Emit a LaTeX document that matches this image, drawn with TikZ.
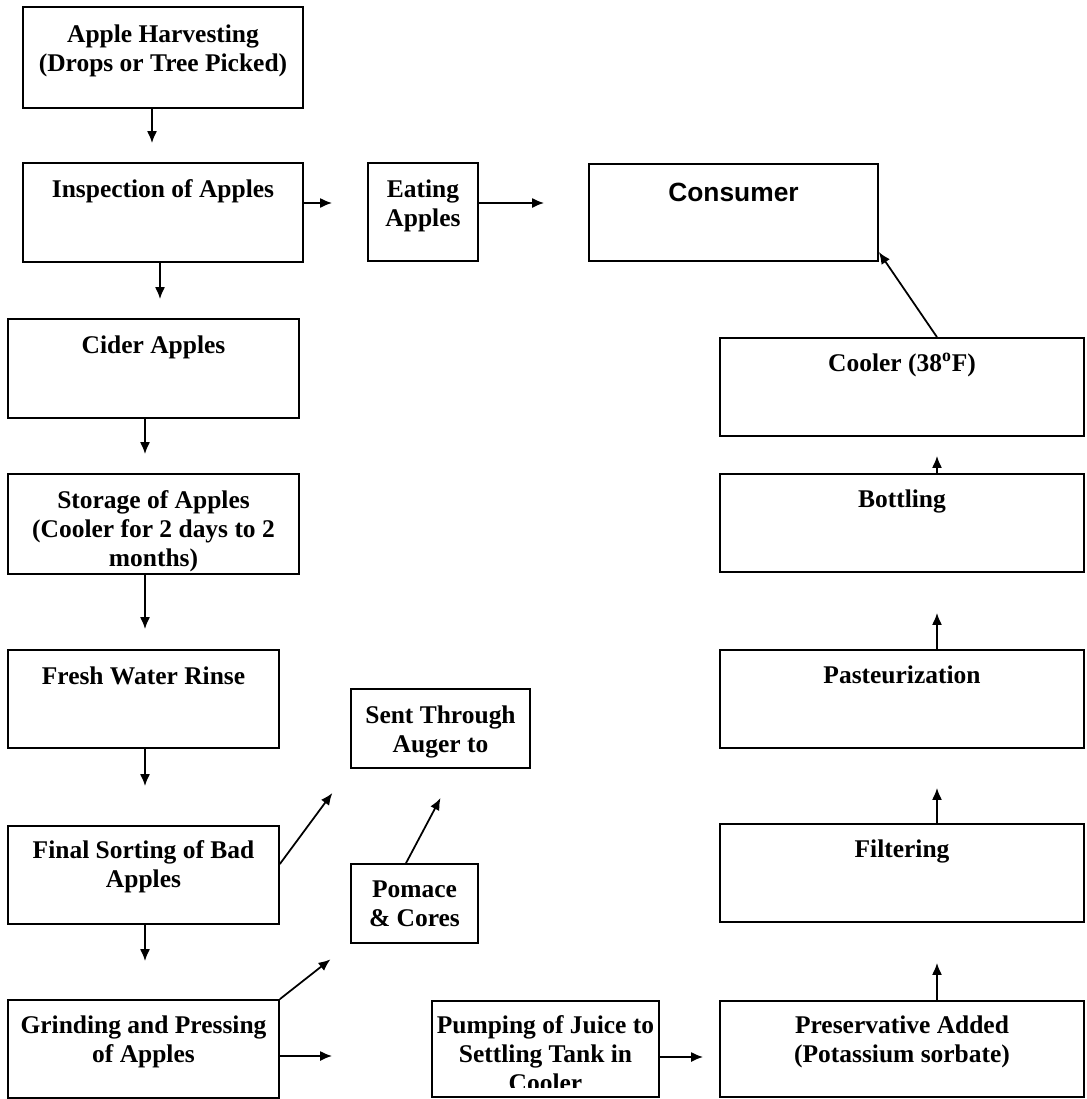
\documentclass[tikz,border=0pt]{standalone}
\usepackage{fontspec}
\setmainfont{Liberation Serif}
\newfontfamily\consfont{Liberation Sans}
\usetikzlibrary{positioning, arrows.meta}

\tikzset{
  stepbox/.style={draw, line width=1pt, inner sep=0pt},
  steptext/.style={anchor=north, align=center, inner sep=0pt,
    font=\fontsize{14.5}{16.5}\selectfont\bfseries},
  flow/.style={-{Latex[length=0.24cm, width=0.2cm]}, line width=1pt},
}

\begin{document}
\begin{tikzpicture}[x=0.02cm, y=-0.02cm]

        \useasboundingbox (0,0) rectangle (1086,1099);

        % left column
        \node (harvest) [stepbox, minimum width=5.6cm, minimum height=2.02cm] at (163,57.5) {};
        \node (inspect) [stepbox, minimum width=5.6cm, minimum height=1.98cm] at (163,212.5) {};
        \node (cider) [stepbox, minimum width=5.82cm, minimum height=1.98cm] at (153.5,368.5) {};
        \node (storage) [stepbox, minimum width=5.82cm, minimum height=2cm] at (153.5,524) {};
        \node (rinse) [stepbox, minimum width=5.42cm, minimum height=1.96cm] at (143.5,699) {};
        \node (sorting) [stepbox, minimum width=5.42cm, minimum height=1.96cm] at (143.5,875) {};
        \node (grinding) [stepbox, minimum width=5.42cm, minimum height=1.96cm] at (143.5,1049) {};

        % middle
        \node (eating) [stepbox, minimum width=2.2cm, minimum height=1.96cm] at (423,212) {};
        \node (consumer) [stepbox, minimum width=5.78cm, minimum height=1.94cm] at (733.5,212.5) {};
        \node (sent) [stepbox, minimum width=3.58cm, minimum height=1.58cm] at (440.5,728.5) {};
        \node (pomace) [stepbox, minimum width=2.54cm, minimum height=1.58cm] at (414.5,903.5) {};
        \node (pumping) [stepbox, minimum width=4.54cm, minimum height=1.92cm] at (545.5,1049) {};

        % right column
        \node (preserv) [stepbox, minimum width=7.28cm, minimum height=1.92cm] at (902,1049) {};
        \node (filtering) [stepbox, minimum width=7.28cm, minimum height=1.96cm] at (902,873) {};
        \node (pasteur) [stepbox, minimum width=7.28cm, minimum height=1.96cm] at (902,699) {};
        \node (bottling) [stepbox, minimum width=7.28cm, minimum height=1.96cm] at (902,523) {};
        \node (cooler) [stepbox, minimum width=7.28cm, minimum height=1.96cm] at (902,387) {};

        % texts
        \node (harvest-t) [steptext] at ([yshift=-0.36cm]harvest.north) {Apple Harvesting\\(Drops or Tree Picked)};
        \node (inspect-t) [steptext] at ([yshift=-0.34cm]inspect.north) {Inspection of Apples};
        \node (cider-t) [steptext] at ([yshift=-0.34cm]cider.north) {Cider Apples};
        \node (storage-t) [steptext] at ([yshift=-0.34cm]storage.north) {Storage of Apples\\(Cooler for 2 days to 2\\months)};
        \node (rinse-t) [steptext] at ([yshift=-0.34cm]rinse.north) {Fresh Water Rinse};
        \node (sorting-t) [steptext] at ([yshift=-0.3cm]sorting.north) {Final Sorting of Bad\\Apples};
        \node (grinding-t) [steptext] at ([yshift=-0.32cm]grinding.north) {Grinding and Pressing\\of Apples};
        \node (eating-t) [steptext] at ([yshift=-0.34cm]eating.north) {Eating\\Apples};
        \node (consumer-t) [steptext, font=\consfont\fontsize{15}{18}\selectfont\bfseries]
            at ([yshift=-0.4cm]consumer.north) {Consumer};
        \node (sent-t) [steptext] at ([yshift=-0.34cm]sent.north) {Sent Through\\Auger to};
        \node (pomace-t) [steptext] at ([yshift=-0.34cm]pomace.north) {Pomace\\\& Cores};
        \begin{scope}
            \clip ([yshift=0.2cm]pumping.south west) rectangle (pumping.north east);
            \node (pumping-t) [steptext] at ([yshift=-0.3cm]pumping.north) {Pumping of Juice to\\Settling Tank in\\Cooler};
        \end{scope}
        \node (preserv-t) [steptext] at ([yshift=-0.3cm]preserv.north) {Preservative Added\\(Potassium sorbate)};
        \node (filtering-t) [steptext] at ([yshift=-0.32cm]filtering.north) {Filtering};
        \node (pasteur-t) [steptext] at ([yshift=-0.32cm]pasteur.north) {Pasteurization};
        \node (bottling-t) [steptext] at ([yshift=-0.32cm]bottling.north) {Bottling};
        \node (cooler-t) [steptext] at ([yshift=-0.32cm]cooler.north) {Cooler (38\textsuperscript{o}F)};

        % connectors
        \draw [flow, shorten >=0.38cm] ([xshift=-0.22cm]harvest.south) -- ([xshift=-0.22cm]harvest.south |- inspect.north);
        \draw [flow, shorten >=0.7cm] ([yshift=0.19cm]inspect.east) -- ([yshift=0.19cm]inspect.east -| eating.west);
        \draw [flow, shorten >=0.88cm] ([yshift=0.18cm]eating.east) -- ([yshift=0.18cm]eating.east -| consumer.west);
        \draw [flow, shorten >=0.38cm] ([xshift=-0.06cm]inspect.south) -- ([xshift=-0.06cm]inspect.south |- cider.north);
        \draw [flow, shorten >=0.38cm] ([xshift=-0.17cm]cider.south) -- ([xshift=-0.17cm]cider.south |- storage.north);
        \draw [flow, shorten >=0.4cm] ([xshift=-0.17cm]storage.south) -- ([xshift=-0.17cm]storage.south |- rinse.north);
        \draw [flow, shorten >=0.78cm] ([xshift=0.03cm]rinse.south) -- ([xshift=0.03cm]rinse.south |- sorting.north);
        \draw [flow, shorten >=0.76cm] ([xshift=0.03cm]sorting.south) -- ([xshift=0.03cm]sorting.south |- grinding.north);
        \draw [flow, shorten >=0.6cm] ([yshift=0.22cm]sorting.east) -- (sent.south west);
        \draw [flow, shorten >=0.66cm] ([xshift=-0.17cm]pomace.north) -- ([xshift=0.31cm]sent.south);
        \draw [flow, shorten >=0.5cm] (grinding.north east) -- (pomace.south west);
        \draw [flow, shorten >=1.98cm] ([yshift=-0.14cm]grinding.east) -- ([yshift=-0.14cm]grinding.east -| pumping.west);
        \draw [flow, shorten >=0.32cm] ([yshift=-0.16cm]pumping.east) -- ([yshift=-0.16cm]pumping.east -| preserv.west);
        \draw [flow, shorten >=0.8cm] ([xshift=0.7cm]preserv.north) -- ([xshift=0.7cm]preserv.north |- filtering.south);
        \draw [flow, shorten >=0.78cm] ([xshift=0.7cm]filtering.north) -- ([xshift=0.7cm]filtering.north |- pasteur.south);
        \draw [flow, shorten >=0.8cm] ([xshift=0.7cm]pasteur.north) -- ([xshift=0.7cm]pasteur.north |- bottling.south);
        \draw [flow, shorten >=0.38cm] ([xshift=0.7cm]bottling.north) -- ([xshift=0.7cm]bottling.north |- cooler.south);
        \draw [flow] ([xshift=0.7cm]cooler.north) -- ([yshift=-0.79cm]consumer.east);

\end{tikzpicture}
\end{document}
